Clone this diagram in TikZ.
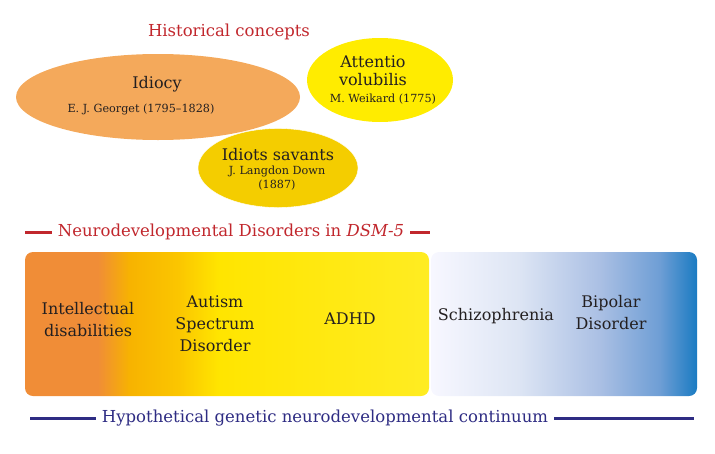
\documentclass[tikz,border=0pt]{standalone}
\usepackage{fontspec}
\setmainfont{DejaVu Serif}
\usetikzlibrary{shapes.geometric, positioning, calc}
\definecolor{hRed}{HTML}{C1272D}
\definecolor{hNavy}{HTML}{2E2C83}
\definecolor{hText}{HTML}{231F20}
\definecolor{ndOrange}{HTML}{F08D37}
\definecolor{ndAmber}{HTML}{F7B300}
\definecolor{ndGold}{HTML}{FBC600}
\definecolor{ndYellow}{HTML}{FFE500}
\definecolor{ndYellowB}{HTML}{FFEC22}
\definecolor{idOrange}{HTML}{F4A95B}
\definecolor{avYellow}{HTML}{FFEC00}
\definecolor{svGold}{HTML}{F4CD00}
\pgfdeclarehorizontalshading{ndshade}{100bp}{color(0bp)=(ndOrange); color(25bp)=(ndOrange);
  color(34bp)=(ndOrange); color(38bp)=(ndAmber); color(44bp)=(ndGold); color(49bp)=(ndYellow);
  color(75bp)=(ndYellowB); color(100bp)=(ndYellowB)}
\pgfdeclarehorizontalshading{psyshade}{100bp}{color(0bp)=(white); color(25bp)=(white!97!blue);
  color(41.5bp)=(rgb,255:red,221;green,229;blue,244); color(56.5bp)=(rgb,255:red,171;green,192;blue,228);
  color(68bp)=(rgb,255:red,110;green,158;blue,213); color(75bp)=(rgb,255:red,26;green,123;blue,194);
  color(100bp)=(rgb,255:red,26;green,123;blue,194)}
\tikzset{
  hconcept/.style={ellipse, inner sep=0pt},
  hbig/.style={font=\fontsize{16}{22}\selectfont, text=hText, align=center},
  hsmall/.style={font=\fontsize{11.2}{14}\selectfont, text=hText, align=center},
  htitle/.style={font=\fontsize{16.5}{19}\selectfont, inner xsep=6pt},
  hrule/.style={line width=3pt},
  hbox/.style={rounded corners=8pt},
}

\begin{document}
\begin{tikzpicture}[x=1pt, y=-1pt]
    \useasboundingbox (0,0) rectangle (715,453);
    % historical concepts
    \node[htitle, text=hRed] (hist) at (229,32) {Historical concepts};
    \node[hconcept, fill=idOrange, minimum width=284pt, minimum height=86pt] (idiocy) at (158,97) {};
    \node[hconcept, fill=avYellow, minimum width=146pt, minimum height=84pt] (atten) at (380,80) {};
    \node[hconcept, fill=svGold, draw=white, minimum width=160pt, minimum height=79pt] (savant) at (278,168) {};
    \node[hbig] (idiocyT) at (157,84) {Idiocy};
    \node[hsmall] (idiocyA) at (141,109) {E. J. Georget (1795–1828)};
    \node[hbig, font=\fontsize{16}{18}\selectfont] (attenT) at (373,71) {Attentio\\volubilis};
    \node[hsmall] (attenA) at (383,99) {M. Weikard (1775)};
    \node[hbig] (savantT) at (278,155) {Idiots savants};
    \node[hsmall] (savantA) at (277,178) {J. Langdon Down\\(1887)};
    % DSM-5 group
    \node[htitle, text=hRed] (dsm) at (231,232) {Neurodevelopmental Disorders in \textit{DSM-5}};
    \coordinate (dsmL) at (25,232);
    \coordinate (dsmR) at (430,232);
    \draw[hrule, hRed] (dsmL) -- (dsm.west);
    \draw[hrule, hRed] (dsm.east) -- (dsmR);
    \path[hbox, shading=ndshade] (25,252) rectangle (429,396);
    \path[hbox, shading=psyshade] (431,252) rectangle (697,396);
    \node[hbig] (intel) at (88,320) {Intellectual\\disabilities};
    \node[hbig] (asd) at (215,324) {Autism\\Spectrum\\Disorder};
    \node[hbig] (adhd) at (350,319) {ADHD};
    \node[hbig] (schiz) at (496,316) {Schizophrenia};
    \node[hbig] (bipol) at (611,313) {Bipolar\\Disorder};
    % continuum
    \node[htitle, text=hNavy] (cont) at (325,418) {Hypothetical genetic neurodevelopmental continuum};
    \coordinate (contL) at (30,418);
    \coordinate (contR) at (694,418);
    \draw[hrule, hNavy] (contL) -- (cont.west);
    \draw[hrule, hNavy] (cont.east) -- (contR);
\end{tikzpicture}
\end{document}
